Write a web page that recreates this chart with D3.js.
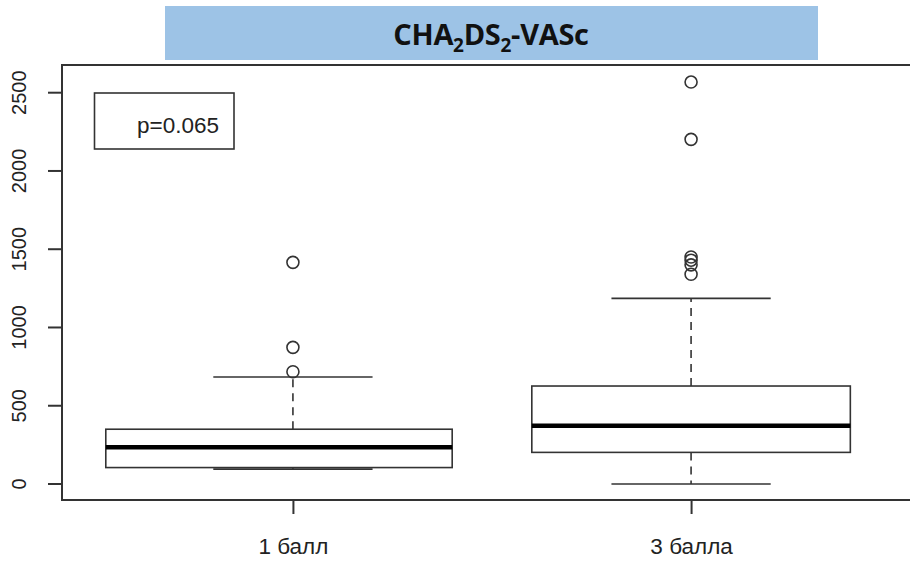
<!DOCTYPE html>
<html>
<head>
<meta charset="utf-8">
<script src="https://cdn.jsdelivr.net/npm/d3@7"></script>
<style>
  html, body { margin: 0; padding: 0; background: #fff; }
  svg { display: block; }
</style>
</head>
<body>
<svg id="chart" width="910" height="562"></svg>
<script>
// Groups and their box-plot summaries
const categories = ["1 балл", "3 балла"];
const whiskerLow  = [95, 0];
const quartile1   = [105, 202];
const medians     = [234, 372];
const quartile3   = [350, 626];
const whiskerHigh = [684, 1186];
const outliers    = [
  [717, 873, 1416],
  [1340, 1400, 1430, 1450, 2202, 2568]
];
const yTicks = [0, 500, 1000, 1500, 2000, 2500];
const titleMain = "CHA";
const pLabel = "p=0.065";

const svg = d3.select("#chart");
const ink = "#333";

// Group positions 1..n on an axis padded like a base-R box plot
const x = d3.scaleLinear().domain([0.42, 2.58]).range([62, 922]);
const y = d3.scaleLinear().domain([0, 2500]).range([484, 92.7]);
const capHalf = 0.2;
// left/right box edges (axis units, relative to group position)
const boxEdges = [[-0.47, 0.4], [-0.4, 0.4]];

// Title banner
svg.append("rect")
  .attr("x", 165).attr("y", 6).attr("width", 653).attr("height", 54)
  .attr("fill", "#9dc3e6");
const title = svg.append("text")
  .attr("x", 491).attr("y", 45)
  .attr("text-anchor", "middle")
  .attr("font-family", "'Open Sans', 'Noto Sans', sans-serif")
  .attr("font-weight", 700)
  .attr("font-size", 29)
  .attr("letter-spacing", -0.3)
  .attr("fill", "#111");
title.append("tspan").text(titleMain);
title.append("tspan").attr("font-size", 19).attr("dy", 7).text("2");
title.append("tspan").attr("dy", -7).text("DS");
title.append("tspan").attr("font-size", 19).attr("dy", 7).text("2");
title.append("tspan").attr("dy", -7).text("-VASc");

// Plot frame
svg.append("rect")
  .attr("x", x(0.42)).attr("y", 65)
  .attr("width", x(2.58) - x(0.42)).attr("height", 435)
  .attr("fill", "none").attr("stroke", ink).attr("stroke-width", 2);

// Axes
const font = "'Liberation Sans', Arial, sans-serif";
const yAxis = svg.append("g")
  .attr("transform", `translate(${x(0.42)},0)`)
  .call(d3.axisLeft(y).tickValues(yTicks).tickSize(14).tickPadding(0).tickFormat(d3.format("d")));
yAxis.select(".domain").remove();
yAxis.selectAll("line").attr("stroke", ink).attr("stroke-width", 2);
yAxis.selectAll("text")
  .attr("font-family", font).attr("font-size", 20).attr("fill", "#222")
  .attr("text-anchor", "middle")
  .attr("dy", null).attr("x", null)
  .attr("transform", d => `translate(-36,${y(d)}) rotate(-90)`)
  .attr("y", 0);
yAxis.selectAll(".tick").attr("transform", null);
yAxis.selectAll(".tick line").attr("transform", d => `translate(0,${y(d)})`);

const xAxis = svg.append("g")
  .attr("transform", "translate(0,500)")
  .call(d3.axisBottom(x).tickValues([1, 2]).tickSize(14).tickPadding(24)
    .tickFormat((d, i) => categories[i]));
xAxis.select(".domain").remove();
xAxis.selectAll("line").attr("stroke", ink).attr("stroke-width", 2);
xAxis.selectAll("text")
  .attr("font-family", font).attr("font-size", 22.5).attr("fill", "#222");

// Boxes
const groups = svg.append("g").selectAll("g")
  .data(categories.map((c, i) => ({
    pos: i + 1, lo: whiskerLow[i], q1: quartile1[i], med: medians[i],
    q3: quartile3[i], hi: whiskerHigh[i], out: outliers[i], edge: boxEdges[i]
  })))
  .join("g");

// dashed whiskers
groups.append("line")
  .attr("x1", d => x(d.pos)).attr("x2", d => x(d.pos))
  .attr("y1", d => y(d.q3)).attr("y2", d => y(d.hi))
  .attr("stroke", ink).attr("stroke-width", 1.6).attr("stroke-dasharray", "8,6");
groups.append("line")
  .attr("x1", d => x(d.pos)).attr("x2", d => x(d.pos))
  .attr("y1", d => y(d.q1)).attr("y2", d => y(d.lo))
  .attr("stroke", ink).attr("stroke-width", 1.6).attr("stroke-dasharray", "8,6");
// whisker caps
["lo", "hi"].forEach(k => {
  groups.append("line")
    .attr("x1", d => x(d.pos - capHalf)).attr("x2", d => x(d.pos + capHalf))
    .attr("y1", d => y(d[k])).attr("y2", d => y(d[k]))
    .attr("stroke", ink).attr("stroke-width", 1.6);
});
// box
groups.append("rect")
  .attr("x", d => x(d.pos + d.edge[0]))
  .attr("width", d => x(d.pos + d.edge[1]) - x(d.pos + d.edge[0]))
  .attr("y", d => y(d.q3)).attr("height", d => y(d.q1) - y(d.q3))
  .attr("fill", "#fff").attr("stroke", ink).attr("stroke-width", 1.6);
// median
groups.append("line")
  .attr("x1", d => x(d.pos + d.edge[0])).attr("x2", d => x(d.pos + d.edge[1]))
  .attr("y1", d => y(d.med)).attr("y2", d => y(d.med))
  .attr("stroke", "#000").attr("stroke-width", 4.5);
// outliers
groups.selectAll("circle")
  .data(d => d.out.map(v => ({ pos: d.pos, v })))
  .join("circle")
  .attr("cx", d => x(d.pos)).attr("cy", d => y(d.v)).attr("r", 6)
  .attr("fill", "none").attr("stroke", ink).attr("stroke-width", 1.6);

// p-value legend box
svg.append("rect")
  .attr("x", 94.5).attr("y", 93).attr("width", 139.5).attr("height", 56)
  .attr("fill", "#fff").attr("stroke", ink).attr("stroke-width", 1.6);
svg.append("text")
  .attr("x", 137).attr("y", 133)
  .attr("font-family", font).attr("font-size", 22.5).attr("fill", "#222")
  .text(pLabel);
</script>
</body>
</html>
